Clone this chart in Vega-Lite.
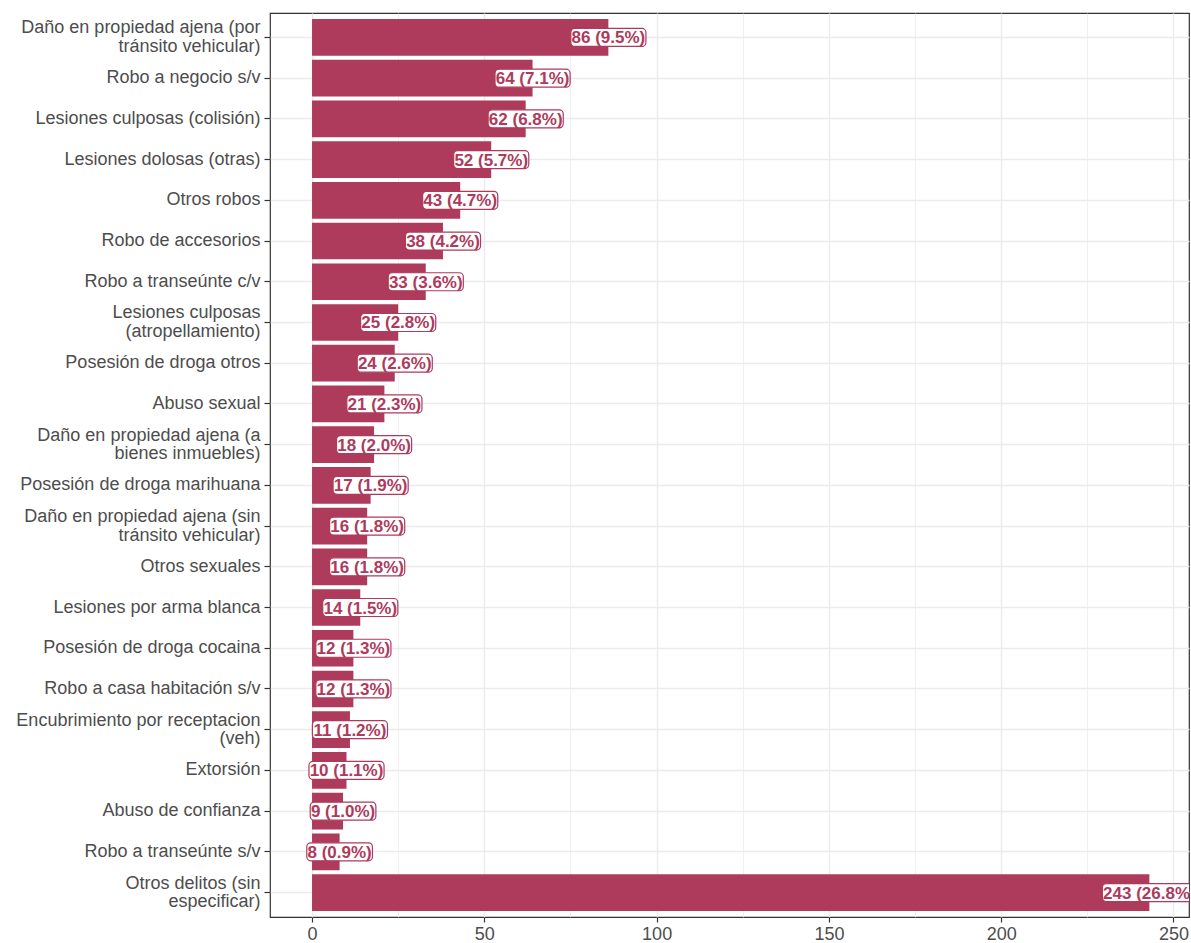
{
  "$schema": "https://vega.github.io/schema/vega-lite/v6.json",
  "width": 919,
  "height": 904,
  "autosize": {"type": "none"},
  "padding": {"left": 270, "top": 13, "right": 2, "bottom": 26},
  "background": "white",
  "config": {
    "view": {"stroke": "#333333", "strokeWidth": 1.2},
    "font": "Liberation Sans"
  },
  "data": {
    "values": [
      {"orden": 1, "cat": "Daño en propiedad ajena (por|tránsito vehicular)", "n": 86, "etiqueta": "86 (9.5%)"},
      {"orden": 2, "cat": "Robo a negocio s/v", "n": 64, "etiqueta": "64 (7.1%)"},
      {"orden": 3, "cat": "Lesiones culposas (colisión)", "n": 62, "etiqueta": "62 (6.8%)"},
      {"orden": 4, "cat": "Lesiones dolosas (otras)", "n": 52, "etiqueta": "52 (5.7%)"},
      {"orden": 5, "cat": "Otros robos", "n": 43, "etiqueta": "43 (4.7%)"},
      {"orden": 6, "cat": "Robo de accesorios", "n": 38, "etiqueta": "38 (4.2%)"},
      {"orden": 7, "cat": "Robo a transeúnte c/v", "n": 33, "etiqueta": "33 (3.6%)"},
      {"orden": 8, "cat": "Lesiones culposas|(atropellamiento)", "n": 25, "etiqueta": "25 (2.8%)"},
      {"orden": 9, "cat": "Posesión de droga otros", "n": 24, "etiqueta": "24 (2.6%)"},
      {"orden": 10, "cat": "Abuso sexual", "n": 21, "etiqueta": "21 (2.3%)"},
      {"orden": 11, "cat": "Daño en propiedad ajena (a|bienes inmuebles)", "n": 18, "etiqueta": "18 (2.0%)"},
      {"orden": 12, "cat": "Posesión de droga marihuana", "n": 17, "etiqueta": "17 (1.9%)"},
      {"orden": 13, "cat": "Daño en propiedad ajena (sin|tránsito vehicular)", "n": 16, "etiqueta": "16 (1.8%)"},
      {"orden": 14, "cat": "Otros sexuales", "n": 16, "etiqueta": "16 (1.8%)"},
      {"orden": 15, "cat": "Lesiones por arma blanca", "n": 14, "etiqueta": "14 (1.5%)"},
      {"orden": 16, "cat": "Posesión de droga cocaina", "n": 12, "etiqueta": "12 (1.3%)"},
      {"orden": 17, "cat": "Robo a casa habitación s/v", "n": 12, "etiqueta": "12 (1.3%)"},
      {"orden": 18, "cat": "Encubrimiento por receptacion|(veh)", "n": 11, "etiqueta": "11 (1.2%)"},
      {"orden": 19, "cat": "Extorsión", "n": 10, "etiqueta": "10 (1.1%)"},
      {"orden": 20, "cat": "Abuso de confianza", "n": 9, "etiqueta": "9 (1.0%)"},
      {"orden": 21, "cat": "Robo a transeúnte s/v", "n": 8, "etiqueta": "8 (0.9%)"},
      {"orden": 22, "cat": "Otros delitos (sin|especificar)", "n": 243, "etiqueta": "243 (26.8%)"}
    ]
  },
  "transform": [
    {"calculate": "((length(datum.etiqueta) - 5) * 9.45 + 37.3) / 6.892", "as": "hw"},
    {"calculate": "datum.n - datum.hw", "as": "lo"},
    {"calculate": "datum.n + datum.hw", "as": "hi"}
  ],
  "encoding": {
    "y": {
      "field": "cat",
      "type": "nominal",
      "sort": null,
      "scale": {"paddingInner": 0.1, "paddingOuter": 0.15},
      "axis": {
        "title": null,
        "labelExpr": "split(datum.label, '|')",
        "labelFontSize": 18,
        "labelColor": "#4D4D4D",
        "labelLineHeight": 18.5,
        "labelLimit": 0,
        "labelPadding": 4,
        "labelOffset": {"condition": {"test": "indexof(datum.value, '|') >= 0", "value": -9}, "value": 0},
        "tickColor": "#333333",
        "tickSize": 6,
        "tickWidth": 1.2,
        "domain": false,
        "grid": true,
        "gridColor": "#EBEBEB",
        "gridWidth": 1.4,
        "bandPosition": 0.5
      }
    }
  },
  "layer": [
    {
      "mark": {"type": "bar", "color": "#AE3A5C", "clip": true},
      "encoding": {
        "x": {
          "field": "n",
          "type": "quantitative",
          "scale": {"domain": [-12.2, 254.5], "nice": false, "zero": false},
          "axis": {
            "title": null,
            "orient": "bottom",
            "values": [0, 50, 100, 150, 200, 250],
            "labelFontSize": 18,
            "labelColor": "#4D4D4D",
            "labelPadding": 3,
            "tickColor": "#333333",
            "tickSize": 5,
            "tickWidth": 1.2,
            "domain": false,
            "grid": true,
            "gridColor": "#EBEBEB",
            "gridWidth": 1.4
          }
        }
      }
    },
    {
      "mark": {"type": "bar", "height": 18, "fill": "white", "stroke": "#AE3A5C", "strokeWidth": 1.2, "cornerRadius": 4, "clip": true},
      "encoding": {
        "x": {"field": "lo", "type": "quantitative", "axis": null},
        "x2": {"field": "hi"}
      }
    },
    {
      "mark": {"type": "text", "fontSize": 17, "fontWeight": "bold", "color": "#AE3A5C", "align": "center", "baseline": "middle", "dy": 1, "clip": true},
      "encoding": {
        "x": {
          "field": "n",
          "type": "quantitative",
          "axis": {
            "orient": "bottom",
            "title": null,
            "values": [25, 75, 125, 175, 225],
            "labels": false,
            "ticks": false,
            "domain": false,
            "grid": true,
            "gridColor": "#EBEBEB",
            "gridWidth": 0.7
          }
        },
        "text": {"field": "etiqueta"}
      }
    }
  ],
  "resolve": {"axis": {"x": "independent"}}
}
